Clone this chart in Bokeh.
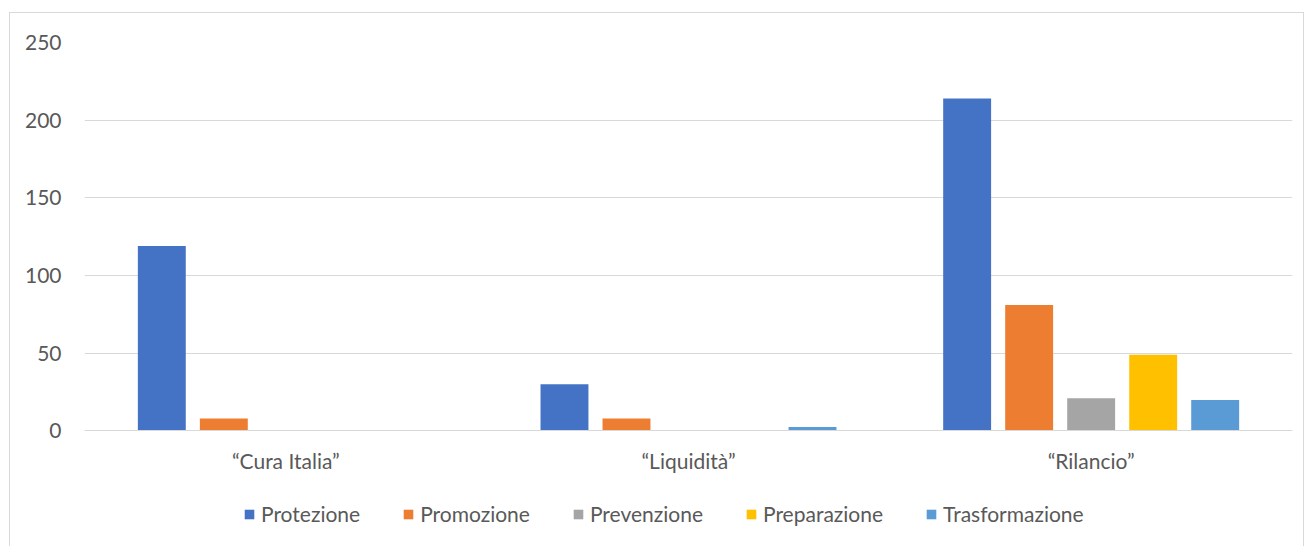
from bokeh.plotting import figure
from bokeh.models import ColumnDataSource, FactorRange, Legend, LegendItem, Range1d, FixedTicker
from bokeh.transform import dodge
from bokeh.embed import file_html
from bokeh.resources import INLINE

categories = ["\u201cCura Italia\u201d", "\u201cLiquidit\u00e0\u201d", "\u201cRilancio\u201d"]
series = ["Protezione", "Promozione", "Prevenzione", "Preparazione", "Trasformazione"]
protezione = [119, 30, 214]
promozione = [8, 8, 81]
prevenzione = [0, 0, 21]
preparazione = [0, 0, 49]
trasformazione = [0, 2.5, 20]
colors = ["#4472C4", "#ED7D31", "#A5A5A5", "#FFC000", "#5B9BD5"]
y_ticks = [0, 50, 100, 150, 200, 250]

src = ColumnDataSource(dict(cat=categories, Protezione=protezione, Promozione=promozione,
                            Prevenzione=prevenzione, Preparazione=preparazione,
                            Trasformazione=trasformazione))

FONT = "Lato"
p = figure(x_range=FactorRange(*categories, range_padding=0), y_range=Range1d(-75, 250),
           width=1295, height=534, output_backend="svg", toolbar_location=None,
           min_border_left=74, min_border_right=13, min_border_top=29, min_border_bottom=0,
           margin=(12, 0, 0, 9), border_fill_color="white")
p.styles = {"border": "1px solid #d9d9d9", "border-bottom": "none"}
p.outline_line_color = None

offsets = [-0.308, -0.154, 0.0, 0.154, 0.308]
items = []
for s, c, off in zip(series, colors, offsets):
    r = p.vbar(x=dodge("cat", off, range=p.x_range), top=s, width=0.119, source=src,
               fill_color=c, line_color=None)
    items.append(LegendItem(label=s, renderers=[r]))

p.yaxis.ticker = FixedTicker(ticks=y_ticks)
p.yaxis.axis_line_color = None
p.yaxis.major_tick_line_color = None
p.yaxis.minor_tick_line_color = None
p.yaxis.major_label_text_font = FONT
p.yaxis.major_label_text_font_size = "21px"
p.yaxis.major_label_text_color = "#595959"
p.yaxis.major_label_standoff = 17

p.xaxis.fixed_location = 0
p.xaxis.axis_line_color = "#d9d9d9"
p.xaxis.axis_line_width = 1
p.xaxis.major_tick_line_color = None
p.xaxis.minor_tick_line_color = None
p.xaxis.major_label_text_font = FONT
p.xaxis.major_label_text_font_size = "21px"
p.xaxis.major_label_text_color = "#595959"
p.xaxis.major_label_standoff = 11

p.xgrid.grid_line_color = None
p.ygrid.ticker = FixedTicker(ticks=y_ticks)
p.ygrid.grid_line_color = "#d9d9d9"
p.ygrid.grid_line_width = 1

legend = Legend(items=items, orientation="horizontal", location=(159, 21),
                glyph_width=12, glyph_height=12, label_standoff=6, spacing=42,
                label_text_font=FONT, label_text_font_size="21px", label_text_color="#595959",
                border_line_color=None, background_fill_alpha=0, padding=0, margin=0)
p.add_layout(legend, "center")

open("out.html", "w").write(file_html(p, INLINE))
